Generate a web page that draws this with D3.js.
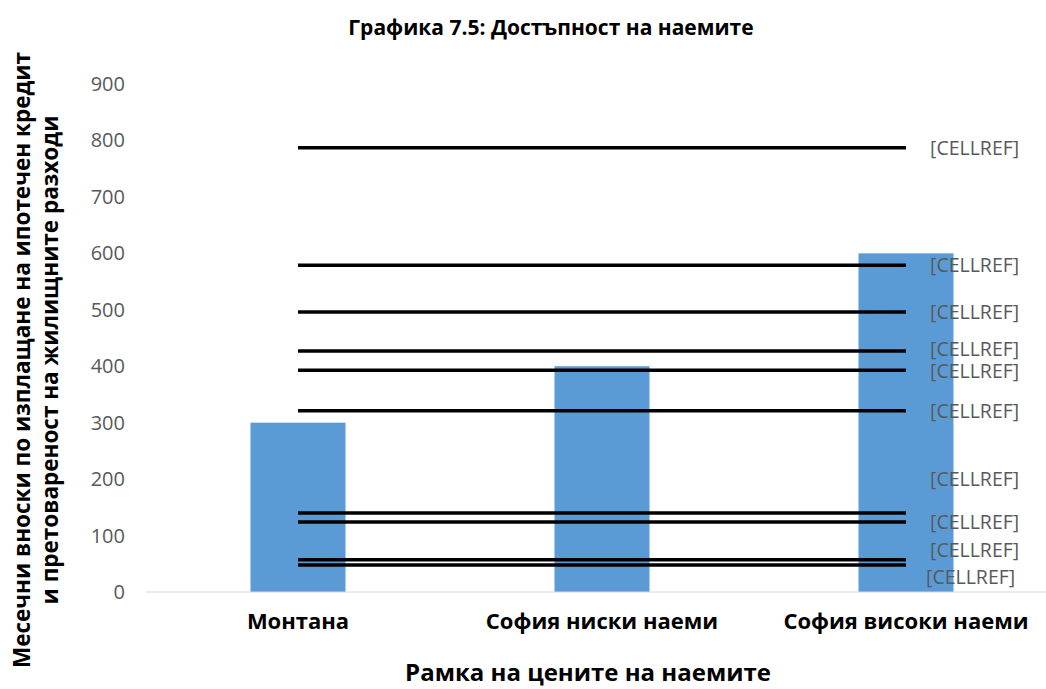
<!DOCTYPE html>
<html>
<head>
<meta charset="utf-8">
<script src="https://cdn.jsdelivr.net/npm/d3@7"></script>
<style>
  body { margin: 0; background: #fff; }
  text { font-family: "Open Sans", "Liberation Sans", sans-serif; }
</style>
</head>
<body>
<script>
var categories = ["Монтана", "София ниски наеми", "София високи наеми"];
var rents = [300, 400, 600];
var lineValues = [787, 579, 496, 427, 393, 321, 140, 124, 57, 48];
var lineLabels = ["[CELLREF]", "[CELLREF]", "[CELLREF]", "[CELLREF]", "[CELLREF]",
                  "[CELLREF]", "[CELLREF]", "[CELLREF]", "[CELLREF]", "[CELLREF]"];
// vertical nudge of data labels (Excel moved some to avoid overlap)
var labelShift = [0, 0, 0, -2, 1, 0, -34, 0, -10, 12];
var yTicks = [0, 100, 200, 300, 400, 500, 600, 700, 800, 900];

var w = 1046, h = 689;
var svg = d3.select("body").append("svg").attr("width", w).attr("height", h);

var x = d3.scaleBand().domain(categories).range([146, 1058]);
var y = d3.scaleLinear().domain([0, 900]).range([592, 84]);

// title
svg.append("text").attr("x", 551).attr("y", 35).attr("text-anchor", "middle")
  .attr("font-size", 21).attr("font-weight", "bold").text("Графика 7.5: Достъпност на наемите");

// y tick labels
svg.selectAll(".ytick").data(yTicks).enter().append("text")
  .attr("x", 125).attr("y", function(d){ return y(d) + 7; })
  .attr("text-anchor", "end").attr("font-size", 20).attr("fill", "#595959")
  .text(function(d){ return d; });

// bars
svg.selectAll(".bar").data(rents).enter().append("rect")
  .attr("x", function(d, i){ return x(categories[i]) + x.bandwidth()/2 - 47.5; })
  .attr("width", 95)
  .attr("y", function(d){ return y(d); })
  .attr("height", function(d){ return y(0) - y(d); })
  .attr("fill", "#5B9BD5");

// baseline
svg.append("line").attr("x1", 146).attr("x2", 1046).attr("y1", y(0)).attr("y2", y(0))
  .attr("stroke", "#d9d9d9").attr("stroke-width", 1);

// horizontal line series
var first = x(categories[0]) + x.bandwidth()/2;
var last = x(categories[2]) + x.bandwidth()/2;
svg.selectAll(".ln").data(lineValues).enter().append("line")
  .attr("x1", first).attr("x2", last)
  .attr("y1", function(d){ return y(d); }).attr("y2", function(d){ return y(d); })
  .attr("stroke", "#000").attr("stroke-width", 3.5);

svg.selectAll(".lbl").data(lineValues).enter().append("text")
  .attr("x", function(d, i){ return i == 9 ? 926 : 930; })
  .attr("y", function(d, i){ return y(d) + labelShift[i] + 7; })
  .attr("font-size", 19.5).attr("fill", "#595959")
  .text(function(d, i){ return lineLabels[i]; });

// category labels
svg.selectAll(".cat").data(categories).enter().append("text")
  .attr("x", function(d){ return x(d) + x.bandwidth()/2; })
  .attr("y", 629).attr("text-anchor", "middle")
  .attr("font-size", 22).attr("font-weight", "bold")
  .text(function(d){ return d; });

// axis titles
svg.append("text").attr("x", 588).attr("y", 681).attr("text-anchor", "middle")
  .attr("font-size", 24).attr("font-weight", "bold").text("Рамка на цените на наемите");

var yt = svg.append("text").attr("transform", "translate(0,360) rotate(-90)")
  .attr("text-anchor", "middle").attr("font-size", 22.5).attr("font-weight", "bold");
yt.append("tspan").attr("x", 0).attr("y", 30).text("Месечни вноски по изплащане на ипотечен кредит");
yt.append("tspan").attr("x", 0).attr("y", 58).text("и претовареност на жилищните разходи");
</script>
</body>
</html>
